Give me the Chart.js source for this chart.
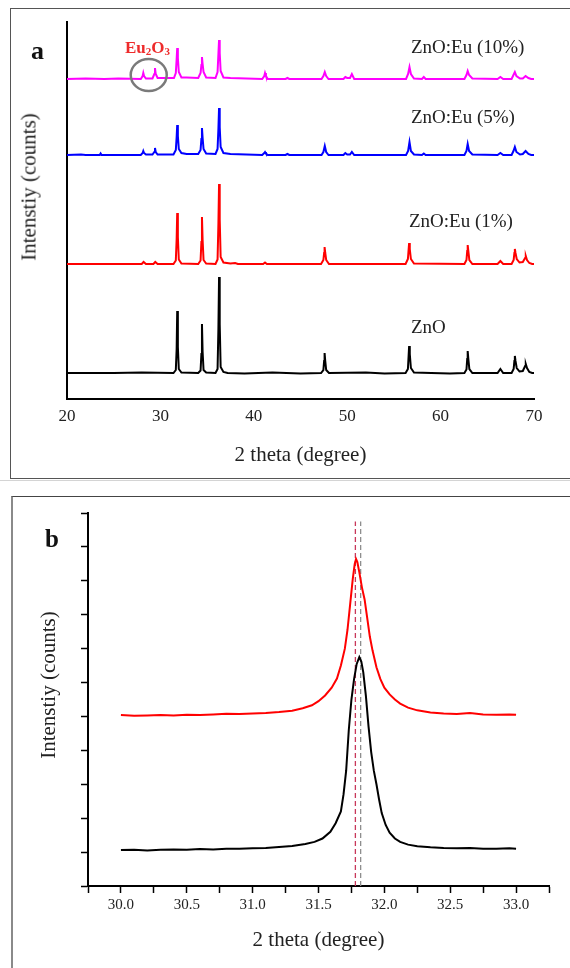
<!DOCTYPE html>
<html>
<head>
<meta charset="utf-8">
<script src="https://cdn.jsdelivr.net/npm/chart.js@4"></script>
<style>
  html, body { margin: 0; padding: 0; background: #fff; }
  body { width: 570px; height: 968px; position: relative; overflow: hidden;
         font-family: "Liberation Serif", "Times New Roman", serif; color: #222; }
  canvas { position: absolute; left: 0; }
  #chartA { top: 0; }
  #chartB { top: 480px; }
  .box-a { position: absolute; left: 10px; top: 8px; width: 600px; height: 469px; border: 1px solid #555; }
  .box-b { position: absolute; left: 11px; top: 496px; width: 600px; height: 520px;
           border-top: 1px solid #444; border-left: 2px solid #8a8a8a; }
  .rule { position: absolute; left: 0; top: 480px; width: 570px; border-top: 1px solid #d4d4d4; }
  .lbl { position: absolute; white-space: nowrap; line-height: 1; }
  .series { font-size: 19px; }
  .panel { font-size: 26px; font-weight: bold; color: #111; }
  .eu { font-size: 17px; font-weight: bold; color: #ee2b2b; }
  .eu .sub { font-size: 11px; position: relative; top: 2px; }
  .ytitle { position: absolute; white-space: nowrap; line-height: 1; font-size: 21px;
            transform: translate(-50%, -50%) rotate(-90deg); }
</style>
</head>
<body>
<div class="box-a"></div>
<div class="rule"></div>
<div class="box-b"></div>
<canvas id="chartA" width="570" height="480"></canvas>
<canvas id="chartB" width="570" height="488"></canvas>

<div class="lbl panel" style="left:31px; top:38px;">a</div>
<div class="lbl eu" style="left:125px; top:39px;">Eu<span class="sub">2</span>O<span class="sub">3</span></div>
<div class="lbl series" style="left:411px; top:37px;">ZnO:Eu (10%)</div>
<div class="lbl series" style="left:411px; top:107px;">ZnO:Eu (5%)</div>
<div class="lbl series" style="left:409px; top:211px;">ZnO:Eu (1%)</div>
<div class="lbl series" style="left:411px; top:317px;">ZnO</div>
<div class="ytitle" style="left:29px; top:187px;">Intenstiy (counts)</div>

<div class="lbl panel" style="left:45px; top:526px; font-size:25px;">b</div>
<div class="ytitle" style="left:48px; top:685px;">Intenstiy (counts)</div>

<script>
// ---- panel a: XRD patterns, stacked (arbitrary counts) ----
const aTickLabels = ['20', '30', '40', '50', '60', '70'];

const znoPts = [
  [20, 26], [25, 26], [28, 26.5], [31.4, 26], [31.65, 29], [31.74, 50], [31.8, 88], [31.87, 52], [31.97, 30], [32.25, 26.5],
  [34.05, 26], [34.3, 28.5], [34.39, 45], [34.45, 75], [34.52, 47], [34.62, 29], [34.9, 26.5],
  [35.9, 26], [36.12, 30], [36.21, 70], [36.28, 122], [36.35, 75], [36.45, 32], [36.75, 27], [37.2, 26],
  [39, 25.5], [42, 26.5], [45, 25.5],
  [47.2, 26], [47.45, 29], [47.53, 38], [47.58, 46], [47.65, 38], [47.75, 29], [48.05, 26],
  [52, 26.5], [54, 25.5],
  [56.25, 26], [56.5, 30], [56.58, 44], [56.63, 53], [56.7, 45], [56.82, 31], [57.15, 26.5],
  [59, 26], [61, 25.5],
  [62.55, 26], [62.77, 29.5], [62.85, 40], [62.9, 48], [62.97, 40], [63.08, 30], [63.4, 26],
  [66.1, 26], [66.4, 30], [66.7, 26],
  [67.6, 26], [67.82, 30], [67.9, 38], [67.95, 43], [68.02, 38], [68.15, 31], [68.45, 27.5],
  [68.8, 28], [69.05, 33], [69.12, 35], [69.25, 31], [69.5, 27], [69.8, 26], [70, 26]
];

const eu1Pts = [
  [20, 135], [24, 135], [28.0, 135], [28.2, 137], [28.45, 135], [29.25, 135], [29.45, 137], [29.7, 135],
  [31.4, 135], [31.65, 138.5], [31.74, 160], [31.8, 186], [31.87, 162], [31.97, 139.5], [32.25, 135.5],
  [34.05, 135], [34.3, 138.5], [34.39, 157], [34.45, 182], [34.52, 159], [34.62, 139], [34.9, 135.5],
  [35.9, 135], [36.12, 139.5], [36.21, 175], [36.28, 215], [36.35, 180], [36.45, 142], [36.75, 136.5],
  [37.5, 135.5], [38, 136], [38.3, 135],
  [41.0, 135], [41.2, 136.5], [41.4, 135],
  [47.2, 135], [47.45, 139], [47.53, 146], [47.58, 152], [47.65, 146], [47.75, 139], [48.05, 135],
  [56.25, 135], [56.5, 140], [56.58, 150], [56.63, 156], [56.7, 150], [56.82, 140], [57.15, 135.5],
  [62.55, 135], [62.77, 139], [62.85, 148], [62.9, 154], [62.97, 148], [63.08, 139], [63.4, 135],
  [66.1, 135], [66.4, 138], [66.7, 135],
  [67.6, 135], [67.82, 139], [67.9, 146], [67.95, 150], [68.02, 146], [68.15, 140], [68.45, 136.5],
  [68.8, 137], [69.05, 141], [69.12, 143], [69.25, 139], [69.5, 136], [69.8, 135], [70, 135]
];

const eu5Pts = [
  [20, 244], [21.5, 244.5], [22, 244], [23.5, 244], [23.6, 245.5], [23.7, 244],
  [27.9, 244], [28.1, 246], [28.17, 248], [28.25, 246], [28.45, 244.5],
  [29.15, 244.5], [29.35, 247], [29.42, 251], [29.5, 247], [29.7, 244.5],
  [31.4, 244.5], [31.65, 249], [31.74, 262], [31.8, 274], [31.87, 263], [31.97, 250], [32.25, 246],
  [32.8, 245], [33.5, 245],
  [34.05, 245], [34.3, 249], [34.39, 260], [34.45, 271], [34.52, 261], [34.62, 250], [34.9, 245.5],
  [35.9, 245], [36.12, 250], [36.21, 270], [36.28, 291], [36.35, 272], [36.45, 252], [36.75, 246], [37.5, 245],
  [40.9, 244], [41.12, 246], [41.2, 247], [41.3, 245.5], [41.5, 244],
  [43.4, 244], [43.6, 245], [43.8, 244],
  [47.25, 244], [47.45, 247], [47.6, 253], [47.75, 247], [48.0, 244],
  [49.6, 244], [49.8, 246], [50.0, 244.5], [50.3, 244.5], [50.5, 247], [50.75, 244],
  [56.3, 244], [56.52, 248], [56.67, 257], [56.82, 248], [57.15, 244.5],
  [58.0, 244], [58.2, 245.5], [58.4, 244],
  [62.55, 244], [62.77, 248], [62.9, 255], [63.05, 248], [63.4, 244.5],
  [66.1, 244], [66.4, 246], [66.7, 244],
  [67.6, 244], [67.8, 248], [67.95, 252], [68.12, 247], [68.5, 244.5], [68.8, 245], [69.1, 248], [69.4, 245], [69.7, 244], [70, 244]
];

const eu10Pts = [
  [20, 320], [22, 320.5], [24, 320], [25.5, 320.5], [27.9, 320], [28.1, 323], [28.17, 326], [28.25, 323], [28.45, 320.5],
  [29.15, 320.5], [29.35, 325], [29.42, 331], [29.5, 325], [29.7, 321],
  [31.45, 321], [31.65, 326], [31.74, 340], [31.8, 351], [31.87, 341], [31.97, 327], [32.25, 321.5], [32.8, 321.5],
  [34.05, 321], [34.3, 326], [34.39, 334], [34.45, 342], [34.52, 335], [34.62, 327], [34.9, 321.5],
  [35.9, 321], [36.12, 327], [36.21, 345], [36.28, 359], [36.35, 346], [36.45, 328], [36.75, 321.5], [37.5, 321],
  [40.9, 320], [41.12, 323], [41.2, 326], [41.3, 323], [41.5, 320],
  [43.4, 320], [43.6, 321], [43.8, 320],
  [47.25, 320], [47.45, 323], [47.6, 327], [47.75, 323], [48, 320],
  [49.6, 320], [49.8, 322], [50.0, 321], [50.3, 321], [50.5, 325], [50.75, 320],
  [56.3, 320], [56.52, 325], [56.67, 332], [56.82, 325], [57.15, 320.5],
  [58.0, 320], [58.2, 322], [58.4, 320],
  [62.55, 320], [62.77, 324], [62.9, 328], [63.05, 324], [63.4, 320.5],
  [66.1, 320], [66.4, 322], [66.7, 320],
  [67.6, 320], [67.8, 324], [67.95, 327], [68.12, 323], [68.5, 320.5], [68.8, 320.5], [69.1, 323], [69.4, 321], [69.7, 320], [70, 320]
];

// ---- panel b: (100) reflection, zoomed ----
const bTickLabels = ['30.0', '30.5', '31.0', '31.5', '32.0', '32.5', '33.0'];

const bZnoPts = [
  [30.00, 1.06], [30.10, 1.07], [30.20, 1.05], [30.30, 1.07], [30.40, 1.08], [30.50, 1.07],
  [30.60, 1.09], [30.70, 1.08], [30.80, 1.10], [30.90, 1.10], [31.00, 1.11], [31.10, 1.12],
  [31.20, 1.15], [31.30, 1.18], [31.40, 1.24], [31.47, 1.30], [31.53, 1.40], [31.59, 1.60],
  [31.63, 1.85], [31.67, 2.20], [31.69, 2.70], [31.71, 3.40], [31.73, 4.60], [31.75, 5.50],
  [31.77, 6.10], [31.79, 6.55], [31.81, 6.75], [31.825, 6.62], [31.84, 6.30], [31.86, 5.60],
  [31.88, 4.70], [31.90, 3.95], [31.92, 3.40], [31.94, 3.00], [31.96, 2.55], [31.98, 2.15],
  [32.01, 1.80], [32.04, 1.57], [32.08, 1.40], [32.12, 1.30], [32.18, 1.22], [32.25, 1.17],
  [32.35, 1.14], [32.45, 1.12], [32.55, 1.11], [32.65, 1.12], [32.75, 1.10], [32.85, 1.10],
  [32.95, 1.11], [33.00, 1.10]
];

const bEuPts = [
  [30.00, 5.04], [30.10, 5.02], [30.20, 5.03], [30.30, 5.04], [30.40, 5.03], [30.50, 5.05],
  [30.60, 5.04], [30.70, 5.06], [30.80, 5.08], [30.90, 5.07], [31.00, 5.09], [31.10, 5.10],
  [31.20, 5.13], [31.30, 5.17], [31.38, 5.24], [31.45, 5.33], [31.50, 5.45], [31.55, 5.62],
  [31.60, 5.85], [31.64, 6.12], [31.67, 6.50], [31.70, 7.00], [31.72, 7.55], [31.74, 8.30],
  [31.76, 9.05], [31.775, 9.50], [31.785, 9.64], [31.795, 9.55], [31.81, 9.25], [31.83, 8.80],
  [31.85, 8.45], [31.87, 7.90], [31.89, 7.35], [31.91, 6.95], [31.94, 6.45], [31.97, 6.10],
  [32.00, 5.85], [32.04, 5.65], [32.08, 5.50], [32.12, 5.38], [32.18, 5.26], [32.25, 5.18],
  [32.35, 5.12], [32.45, 5.09], [32.55, 5.07], [32.65, 5.10], [32.75, 5.06], [32.85, 5.05],
  [32.95, 5.06], [33.00, 5.05]
];

const bDashRed = [[31.78, 0], [31.78, 10.75]];
const bDashGray = [[31.82, 0], [31.82, 10.75]];

// ---- chart setup ----
const serif = '"Liberation Serif", "Times New Roman", serif';
Chart.defaults.font.family = serif;
Chart.defaults.color = '#222';

function line(pts, color, width, dash) {
  return {
    data: pts, borderColor: color, borderWidth: width, borderDash: dash || [],
    pointRadius: 0, showLine: true, tension: 0, fill: false
  };
}

// grey ring around the Eu2O3 reflections
const euCircle = {
  id: 'euCircle',
  afterDatasetsDraw(chart) {
    const { ctx, scales: { x, y } } = chart;
    ctx.save();
    ctx.strokeStyle = '#7a7a7a';
    ctx.lineWidth = 2.5;
    ctx.beginPath();
    ctx.ellipse(x.getPixelForValue(28.75), y.getPixelForValue(324), 18, 16, 0, 0, Math.PI * 2);
    ctx.stroke();
    ctx.restore();
  }
};

new Chart(document.getElementById('chartA'), {
  type: 'scatter',
  data: {
    datasets: [
      line(znoPts, '#000000', 2),
      line(eu1Pts, '#ff0000', 2),
      line(eu5Pts, '#0000ff', 2),
      line(eu10Pts, '#ff00ff', 2)
    ]
  },
  options: {
    responsive: false,
    animation: false,
    layout: { padding: { left: 0, right: 36, top: 22, bottom: 0 } },
    plugins: { legend: { display: false }, tooltip: { enabled: false } },
    scales: {
      x: {
        type: 'linear', min: 20, max: 70,
        afterFit(s) { s.height = 81; },
        grid: { display: false, drawTicks: false },
        border: { display: true, color: '#000', width: 2 },
        ticks: {
          stepSize: 10, padding: 7, maxRotation: 0, autoSkip: false,
          font: { size: 17 }, color: '#222',
          callback: v => aTickLabels.includes(String(v)) ? String(v) : ''
        },
        title: { display: true, text: '2 theta (degree)', font: { size: 21 }, color: '#222',
                 padding: { top: 0, bottom: 12 } }
      },
      y: {
        min: 0, max: 377,
        afterFit(s) { s.width = 67; },
        grid: { display: false, drawTicks: false },
        border: { display: true, color: '#000', width: 2 },
        ticks: { display: false }
      }
    }
  },
  plugins: [euCircle]
});

new Chart(document.getElementById('chartB'), {
  type: 'scatter',
  data: {
    datasets: [
      line(bZnoPts, '#000000', 2),
      line(bEuPts, '#ff0000', 2),
      line(bDashRed, '#c8385a', 1.3, [5, 3]),
      line(bDashGray, '#8e8e8e', 1.3, [5, 3])
    ]
  },
  options: {
    responsive: false,
    animation: false,
    layout: { padding: { left: 0, right: 21, top: 33, bottom: 0 } },
    plugins: { legend: { display: false }, tooltip: { enabled: false } },
    scales: {
      x: {
        type: 'linear', min: 29.75, max: 33.25,
        afterFit(s) { s.height = 82; },
        grid: { display: true, drawOnChartArea: false, drawTicks: true, tickLength: 7,
                tickColor: '#000', tickWidth: 1.5 },
        border: { display: true, color: '#000', width: 2 },
        ticks: {
          stepSize: 0.25, padding: 3, maxRotation: 0, autoSkip: false,
          font: { size: 15 }, color: '#222',
          callback: v => {
            const s = Number(v).toFixed(1);
            return (bTickLabels.includes(s) && Math.abs(v * 2 - Math.round(v * 2)) < 1e-6) ? s : '';
          }
        },
        title: { display: true, text: '2 theta (degree)', font: { size: 21 }, color: '#222',
                 padding: { top: 0, bottom: 15 } }
      },
      y: {
        min: 0, max: 11,
        afterFit(s) { s.width = 88; },
        grid: { display: true, drawOnChartArea: false, drawTicks: true, tickLength: 7,
                tickColor: '#000', tickWidth: 1.5 },
        border: { display: true, color: '#000', width: 2 },
        ticks: { display: false, stepSize: 1 }
      }
    }
  }
});
</script>
</body>
</html>
